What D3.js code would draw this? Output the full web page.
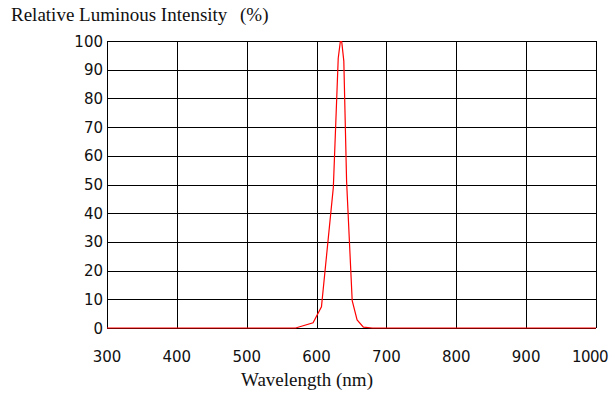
<!DOCTYPE html>
<html>
<head>
<meta charset="utf-8">
<script src="https://cdn.jsdelivr.net/npm/d3@7"></script>
<style>
  body { margin: 0; background: #fff; }
  svg { display: block; }
</style>
</head>
<body>
<svg id="chart" width="612" height="396"></svg>
<script>
// spectrum
var wavelength = [300, 570, 595, 607, 624, 631, 634, 636, 639, 643, 651, 658, 667, 680, 1000];
var intensity  = [0,   0,   1.8, 7.4, 49,  94,  99.8, 99.8, 93, 51,  9.5, 2.8, 0.3, 0,   0];

var xTicks = [300, 400, 500, 600, 700, 800, 900, 1000];
var yTicks = [0, 10, 20, 30, 40, 50, 60, 70, 80, 90, 100];

var svg = d3.select("#chart");

let x = d3.scaleLinear().domain([300, 1000]).range([107, 596]);
let y = d3.scaleLinear().domain([0, 100]).range([328, 41]);

var crisp = v => Math.round(v) + 0.5;

// grid
svg.append("g")
  .selectAll("line")
  .data(xTicks)
  .enter()
  .append("line")
  .attr("x1", d => crisp(x(d)))
  .attr("x2", d => crisp(x(d)))
  .attr("y1", y(100))
  .attr("y2", y(0))
  .style("stroke", "#000")
  .style("stroke-width", 1);

svg.append("g")
  .selectAll("line")
  .data(yTicks)
  .enter()
  .append("line")
  .attr("x1", x(300))
  .attr("x2", x(1000))
  .attr("y1", d => crisp(y(d)))
  .attr("y2", d => crisp(y(d)))
  .style("stroke", "#000")
  .style("stroke-width", 1);

// tick labels
svg.append("g")
  .selectAll("text")
  .data(yTicks)
  .enter()
  .append("text")
  .attr("x", 103)
  .attr("y", d => y(d) + 5.5)
  .attr("text-anchor", "end")
  .style("font-family", "DejaVu Sans")
  .style("font-size", "15px")
  .style("fill", "#111")
  .text(d => d);

// the last label sits a bit left so it stays inside the page
svg.append("g")
  .selectAll("text")
  .data(xTicks)
  .enter()
  .append("text")
  .attr("x", d => d === 1000 ? x(d) - 6 : x(d))
  .attr("y", 362)
  .attr("text-anchor", "middle")
  .style("font-family", "DejaVu Sans")
  .style("font-size", "15px")
  .style("letter-spacing", d => d === 1000 ? "-0.6px" : null)
  .style("fill", "#111")
  .text(d => d);

// curve
var line = d3.line()
  .x((d, i) => x(wavelength[i]))
  .y(d => y(d));

svg.append("path")
  .datum(intensity)
  .attr("d", line)
  .style("fill", "none")
  .style("stroke", "#ff0000")
  .style("stroke-width", 1.2);

// titles
svg.append("text")
  .attr("x", 11)
  .attr("y", 21)
  .style("font-family", "Liberation Serif")
  .style("font-size", "19px")
  .style("fill", "#111")
  .text("Relative Luminous Intensity");

svg.append("text")
  .attr("x", 240)
  .attr("y", 21)
  .style("font-family", "Liberation Serif")
  .style("font-size", "19px")
  .style("fill", "#111")
  .text("(%)");

svg.append("text")
  .attr("x", 307)
  .attr("y", 386)
  .attr("text-anchor", "middle")
  .style("font-family", "Liberation Serif")
  .style("font-size", "19px")
  .style("fill", "#111")
  .text("Wavelength (nm)");
</script>
</body>
</html>
